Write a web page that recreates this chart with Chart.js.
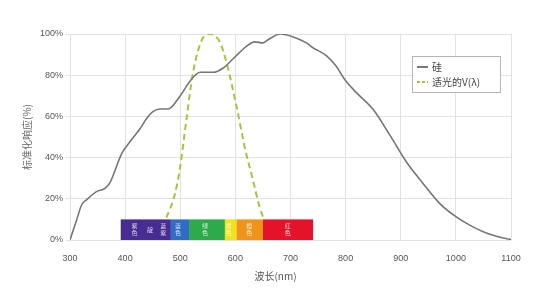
<!DOCTYPE html>
<html>
<head>
<meta charset="utf-8">
<script src="https://cdn.jsdelivr.net/npm/chart.js@4"></script>
<style>
  body { margin: 0; background: #fff; }
</style>
</head>
<body>
<canvas id="chart" width="554" height="290"></canvas>
<script>
// silicon response (wavelength nm / normalised %)
const siNm  = [300, 312, 321, 330, 348, 363, 372, 394, 409, 427, 439, 451, 463, 478, 499, 520, 536, 560, 578, 596,
               620, 635, 650, 660, 681, 705, 729, 741, 765, 783, 798, 820, 850, 880, 910, 940, 970, 1000, 1030, 1060, 1098, 1100];
const siPct = [0, 9.7, 17, 19.5, 23.5, 25, 27.6, 42, 47.8, 54, 59, 62.4, 63.6, 63.6, 69.7, 77.9, 81.4, 81.4, 83.5, 88,
               94, 96.2, 95.7, 97.3, 100, 98.6, 95.7, 93.3, 89.5, 84.3, 78, 71.4, 63.3, 51, 38, 27.6, 17.9, 11.3, 6.5, 2.9, 0.3, 0.2];

// photopic V(lambda)
const vNm  = [460, 475, 490, 499, 511, 523, 539, 554, 572, 584, 602, 617, 632, 644, 655, 665];
const vPct = [2, 11, 22, 34, 58, 81, 97, 100, 96, 86, 65, 45, 29, 16, 8, 2];

// colour bar
const bandStart  = [392, 483, 516, 581, 602, 650];
const bandEnd    = [483, 516, 581, 602, 650, 741];
const bandColors = ['#472c91', '#2f6cc4', '#2eaa4a', '#f2e21a', '#ef9418', '#e5132a'];
const bandHeight = 10;
const labelNm    = [417, 445, 469, 496, 545, 588, 625, 695];
const labelText  = ['紫色', '靛', '蓝紫', '蓝色', '绿色', '黄色', '橙色', '红色'];

const xTicks = [300, 400, 500, 600, 700, 800, 900, 1000, 1100];
const seriesNames = ['硅', '适光的V(λ)'];

const cjk = '"Noto Sans CJK SC", "Liberation Sans", sans-serif';

const extras = {
  id: 'extras',
  afterDatasetsDraw(chart) {
    const {ctx, chartArea: ca, scales: {x, y}} = chart;
    ctx.save();
    // colour bar
    const top = y.getPixelForValue(bandHeight), bot = y.getPixelForValue(0);
    bandStart.forEach((s, i) => {
      const l = x.getPixelForValue(s), r = x.getPixelForValue(bandEnd[i]);
      ctx.fillStyle = bandColors[i];
      ctx.fillRect(l, top, r - l, bot - top);
    });
    ctx.fillStyle = 'rgba(255,255,255,0.8)';
    ctx.font = '6px ' + cjk;
    ctx.textAlign = 'center';
    ctx.textBaseline = 'middle';
    labelNm.forEach((n, i) => {
      const cx = x.getPixelForValue(n);
      const chars = [...labelText[i]];
      const mid = (top + bot) / 2;
      chars.forEach((c, j) => {
        ctx.fillText(c, cx, mid + (j - (chars.length - 1) / 2) * 7);
      });
    });
    ctx.restore();
  },
  afterDraw(chart) {
    const {ctx, chartArea: ca} = chart;
    ctx.save();
    // legend box
    const lx = ca.right - 99, ly = ca.top + 22;
    ctx.fillStyle = '#fff';
    ctx.fillRect(lx, ly, 88, 36);
    ctx.strokeStyle = '#b5b5b5';
    ctx.lineWidth = 1;
    ctx.strokeRect(lx + 0.5, ly + 0.5, 88, 36);
    ctx.lineWidth = 2;
    ctx.strokeStyle = '#777';
    ctx.beginPath(); ctx.moveTo(lx + 5, ly + 11); ctx.lineTo(lx + 16, ly + 11); ctx.stroke();
    ctx.strokeStyle = '#a9c23f';
    ctx.setLineDash([3, 2]);
    ctx.beginPath(); ctx.moveTo(lx + 5, ly + 26); ctx.lineTo(lx + 16, ly + 26); ctx.stroke();
    ctx.setLineDash([]);
    ctx.fillStyle = '#444';
    ctx.font = '10px ' + cjk;
    ctx.textBaseline = 'middle';
    ctx.fillText(seriesNames[0], lx + 20, ly + 11);
    ctx.fillText(seriesNames[1], lx + 20, ly + 26);
    // x axis title
    ctx.textAlign = 'center';
    ctx.fillStyle = '#555';
    ctx.fillText('波长(nm)', (ca.left + ca.right) / 2 - 15, 276);
    ctx.restore();
  }
};

new Chart(document.getElementById('chart'), {
  type: 'line',
  data: {
    datasets: [{
      label: seriesNames[0],
      data: siNm.map((n, i) => ({x: n, y: siPct[i]})),
      borderColor: '#767676',
      borderWidth: 1.6,
      pointRadius: 0,
      cubicInterpolationMode: 'monotone',
      order: 1
    }, {
      label: seriesNames[1],
      data: vNm.map((n, i) => ({x: n, y: vPct[i]})),
      borderColor: '#a9c23f',
      borderWidth: 2,
      borderDash: [6, 4],
      pointRadius: 0,
      cubicInterpolationMode: 'monotone',
      order: 2
    }]
  },
  options: {
    responsive: false,
    animation: false,
    devicePixelRatio: 1,
    layout: { padding: { top: 34, right: 43, left: 0, bottom: 0 } },
    plugins: {
      legend: { display: false },
      tooltip: { enabled: false }
    },
    scales: {
      x: {
        type: 'linear',
        min: 300, max: 1100,
        afterBuildTicks: s => { s.ticks = xTicks.map(v => ({value: v})); },
        afterFit: s => { s.height = 50; },
        border: { display: false },
        grid: { color: '#e2e2e2', drawTicks: false },
        ticks: {
          padding: 13,
          color: '#555',
          font: { family: '"Liberation Sans", sans-serif', size: 9 },
          callback: v => String(v)
        }
      },
      y: {
        min: 0, max: 100,
        afterFit: s => { s.width = 70; },
        border: { display: false },
        grid: { color: '#e2e2e2', tickLength: 4 },
        ticks: {
          stepSize: 20,
          padding: 3,
          color: '#555',
          font: { family: '"Liberation Sans", sans-serif', size: 9 },
          callback: v => v + '%'
        },
        title: {
          display: true,
          text: '标准化响应(%)',
          color: '#666',
          font: { family: cjk, size: 10 },
          padding: { top: 21 }
        }
      }
    }
  },
  plugins: [extras]
});
</script>
</body>
</html>
